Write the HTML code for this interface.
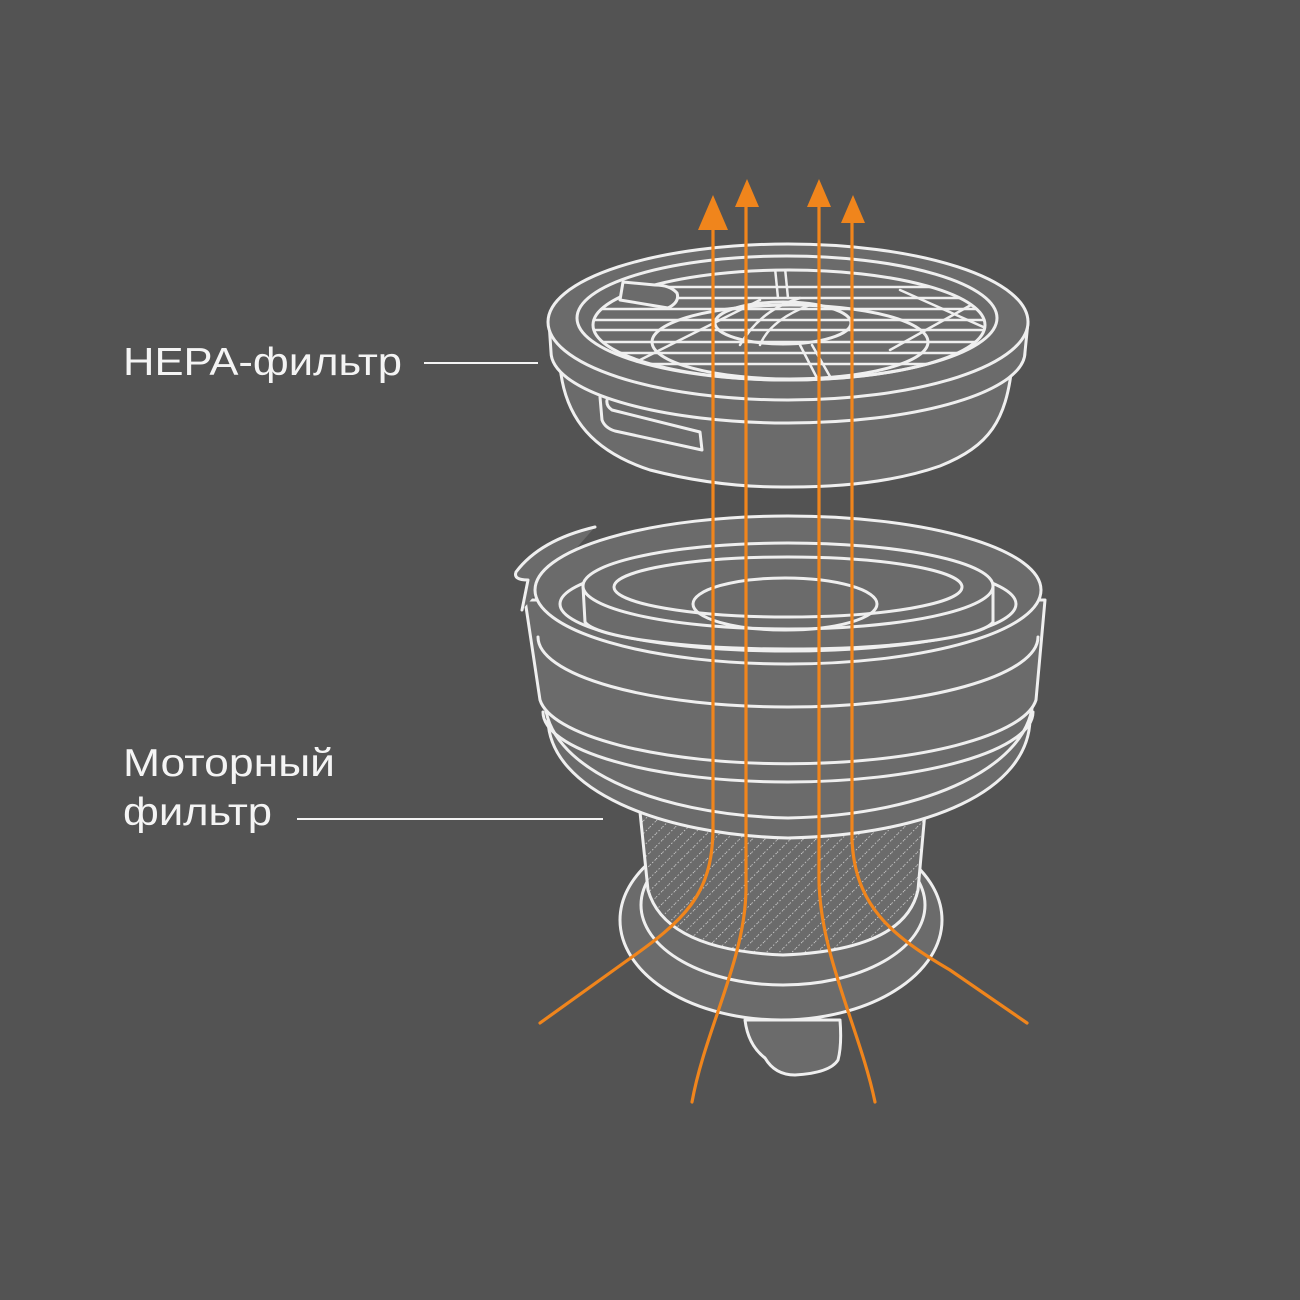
<!DOCTYPE html>
<html><head><meta charset="utf-8"><style>
html,body{margin:0;padding:0;background:#535353;}
svg{display:block;}
text{font-family:"Liberation Sans",sans-serif;fill:#f4f4f4;font-size:39px;}
</style></head><body>
<svg width="1300" height="1300" viewBox="0 0 1300 1300" xmlns="http://www.w3.org/2000/svg">
<defs>
<pattern id="hatch" width="9" height="9" patternUnits="userSpaceOnUse" patternTransform="rotate(45)">
<rect width="9" height="9" fill="#6b6b6b"/>
<line x1="0" y1="0" x2="0" y2="9" stroke="#e8e8e8" stroke-width="1.3" stroke-dasharray="1.5 2"/>
</pattern>
<clipPath id="gridclip"><ellipse cx="789" cy="325" rx="196" ry="55"/></clipPath>
</defs>
<rect width="1300" height="1300" fill="#535353"/>

<!-- labels -->
<text x="123" y="375" textLength="279" lengthAdjust="spacingAndGlyphs">HEPA-фильтр</text>
<line x1="424" y1="363" x2="538" y2="363" stroke="#f4f4f4" stroke-width="2"/>
<text x="123" y="776" textLength="212" lengthAdjust="spacingAndGlyphs">Моторный</text>
<text x="123" y="825" textLength="149" lengthAdjust="spacingAndGlyphs">фильтр</text>
<line x1="297" y1="819" x2="603" y2="819" stroke="#f4f4f4" stroke-width="2"/>

<g stroke="#efefef" stroke-width="3" fill="#6b6b6b" stroke-linejoin="round" stroke-linecap="round">
<!-- HEPA filter -->
<path d="M560,366 C565,420 595,452 650,470 Q720,488 790,487 Q880,487 940,466 C990,446 1006,420 1012,366 Z"/>
<path d="M600,397 L602,420 Q605,428 615,431 L702,450 L700,432 L612,410 Q606,406 607,400" fill="none"/>
<path d="M549,322 L551,352 A237,71 0 0 0 1025,352 L1028,322 Z"/>
<ellipse cx="788" cy="322" rx="240" ry="78"/>
<ellipse cx="787" cy="318" rx="210" ry="62" fill="none"/>
<ellipse cx="789" cy="325" rx="196" ry="55" fill="none"/>
<g clip-path="url(#gridclip)" fill="none" stroke-width="2.5">
<line x1="560" y1="287" x2="1020" y2="287"/>
<line x1="560" y1="298" x2="1020" y2="298"/>
<line x1="560" y1="309" x2="1020" y2="309"/>
<line x1="560" y1="320" x2="1020" y2="320"/>
<line x1="560" y1="330" x2="1020" y2="330"/>
<line x1="560" y1="342" x2="1020" y2="342"/>
<line x1="560" y1="353" x2="1020" y2="353"/>
<line x1="560" y1="364" x2="1020" y2="364"/>
<line x1="640" y1="360" x2="760" y2="300"/>
<line x1="900" y1="290" x2="990" y2="330"/>
<line x1="890" y1="350" x2="980" y2="300"/>
<line x1="775" y1="268" x2="778" y2="298"/>
<line x1="785" y1="268" x2="788" y2="298"/>
<line x1="800" y1="345" x2="818" y2="380"/>
<line x1="812" y1="345" x2="832" y2="380"/>
<path d="M760,345 Q770,320 810,305"/>
<path d="M740,345 Q760,310 800,298"/>
</g>
<ellipse cx="790" cy="342" rx="138" ry="37" fill="none"/>
<ellipse cx="783" cy="323" rx="68" ry="21" fill="none"/>
<path d="M623,282 L620,300 L668,308 Q680,302 677,293 Q670,285 655,285 Z"/>

<!-- Motor filter base -->
<path d="M745,1020 Q748,1045 765,1058 Q775,1075 795,1075 Q830,1073 838,1060 Q842,1045 840,1020 Z"/>
<ellipse cx="781" cy="920" rx="161" ry="100"/>
<ellipse cx="783" cy="905" rx="142" ry="80"/>
<path d="M640,812 L648,890 Q665,950 783,955 Q905,950 918,890 L925,812 Z" fill="url(#hatch)"/>

<!-- body bands -->
<path d="M548,720 C550,790 660,835 788,838 C930,835 1028,790 1030,720 Z"/>
<path d="M545,700 C545,765 650,815 788,818 C930,815 1030,765 1033,700 Z"/>
<path d="M543,712 A245,70 0 0 0 1033,712" fill="none"/>
<path d="M525,600 L540,700 A249,70 0 0 0 1036,700 L1045,600 Z"/>
<path d="M538,637 A250,70 0 0 0 1038,637" fill="none"/>
<path d="M595,527 Q540,540 516,572 Q513,580 528,580 L522,610" />
<ellipse cx="788" cy="590" rx="253" ry="74"/>
<ellipse cx="788" cy="604" rx="228" ry="47" fill="none"/>
<path d="M583,586 L585,622 A205,30 0 0 0 993,622 L993,586 Z"/>
<ellipse cx="788" cy="586" rx="205" ry="43"/>
<ellipse cx="788" cy="587" rx="174" ry="30" fill="none"/>
<ellipse cx="785" cy="604" rx="92" ry="26" fill="none"/>
</g>

<!-- arrows -->
<g stroke="#f0851c" stroke-width="3.2" fill="none" stroke-linecap="round">
<path d="M713,226 L713,830 C712,895 685,920 625,962 L540,1023"/>
<path d="M746,204 L746,890 C745,960 705,1030 692,1102"/>
<path d="M819,204 L819,880 C820,955 860,1030 875,1102"/>
<path d="M852,220 L852,840 C855,905 890,935 950,970 L1027,1023"/>
</g>
<g fill="#f0851c">
<polygon points="713,195 698,230 728,230"/>
<polygon points="747,179 735,207 759,207"/>
<polygon points="819,179 807,207 831,207"/>
<polygon points="853,195 841,223 865,223"/>
</g>
</svg>
</body></html>
